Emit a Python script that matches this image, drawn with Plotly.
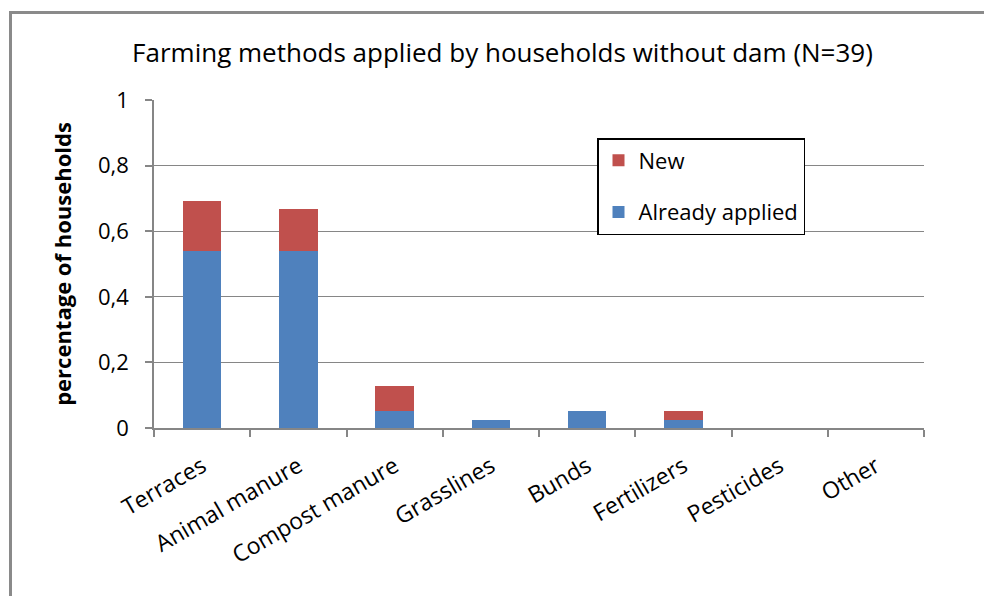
import plotly.graph_objects as go

categories = ["Terraces", "Animal manure", "Compost manure", "Grasslines", "Bunds",
              "Fertilizers", "Pesticides", "Other"]
already_applied = [21/39, 21/39, 2/39, 1/39, 2/39, 1/39, 0, 0]
new = [6/39, 5/39, 3/39, 0, 0, 1/39, 0, 0]
y_tickvals = [0, 0.2, 0.4, 0.6, 0.8, 1]
y_ticktext = ["0", "0,2", "0,4", "0,6", "0,8", "1"]

W, H = 984, 596
L, R, T, B = 154, 60, 100, 168
FONT = "Open Sans, sans-serif"
GRID = "#868686"

fig = go.Figure()
fig.add_trace(go.Bar(x=categories, y=already_applied, name="Already applied",
                     marker=dict(color="#4F81BD", line=dict(width=0)),
                     legendgroup="a", legendrank=2))
fig.add_trace(go.Bar(x=categories, y=new, name="New",
                     marker=dict(color="#C0504D", line=dict(width=0)),
                     legendgroup="b", legendrank=1))

pw = W - L - R
ph = H - T - B
def px(x):
    return (x - L) / pw
def py(y):
    return (H - B - y) / ph

fig.update_layout(
    width=W, height=H,
    margin=dict(l=L, r=R, t=T, b=B),
    barmode="stack", bargap=0.6,
    plot_bgcolor="white", paper_bgcolor="white",
    font=dict(family=FONT, color="#000000"),
    title=dict(text="Farming methods applied by households without dam (N=39)",
               x=(127 + 878) / 2 / W, xanchor="center", y=1 - 53 / H, yanchor="middle",
               font=dict(size=26, family=FONT)),
    showlegend=True,
    legend=dict(x=px(597), y=py(138), xanchor="left", yanchor="top",
                bgcolor="white", bordercolor="#000000", borderwidth=1.5,
                font=dict(size=22, family=FONT),
                traceorder="grouped", tracegroupgap=20,
                itemwidth=30),
    xaxis=dict(showline=True, linecolor=GRID, linewidth=2,
               ticks="outside", ticklen=7, tickcolor=GRID, tickwidth=1.5,
               tickson="boundaries", tickangle=-30, ticklabelstandoff=14,
               tickfont=dict(size=23, family=FONT), showgrid=False,
               range=[-0.5, 7.5]),
    yaxis=dict(range=[0, 1], tickvals=y_tickvals, ticktext=y_ticktext,
               showline=True, linecolor=GRID, linewidth=1.5,
               ticks="outside", ticklen=7, tickcolor=GRID, tickwidth=1.5,
               ticklabelstandoff=12,
               showgrid=True, gridcolor=GRID, gridwidth=1.2,
               tickfont=dict(size=22, family=FONT), zeroline=False,
               title=dict(text="<b>percentage of households</b>",
                          font=dict(size=22, family=FONT), standoff=20)),
)

# outer chart frame (left and top edges visible)
fig.add_shape(type="line", xref="paper", yref="paper",
              x0=px(10.5), x1=px(10.5), y0=py(610), y1=py(12.5),
              line=dict(color="#8a8a8a", width=3), layer="below")
fig.add_shape(type="line", xref="paper", yref="paper",
              x0=px(9), x1=px(1000), y0=py(12.5), y1=py(12.5),
              line=dict(color="#8a8a8a", width=3), layer="below")

fig.write_html("out.html")
